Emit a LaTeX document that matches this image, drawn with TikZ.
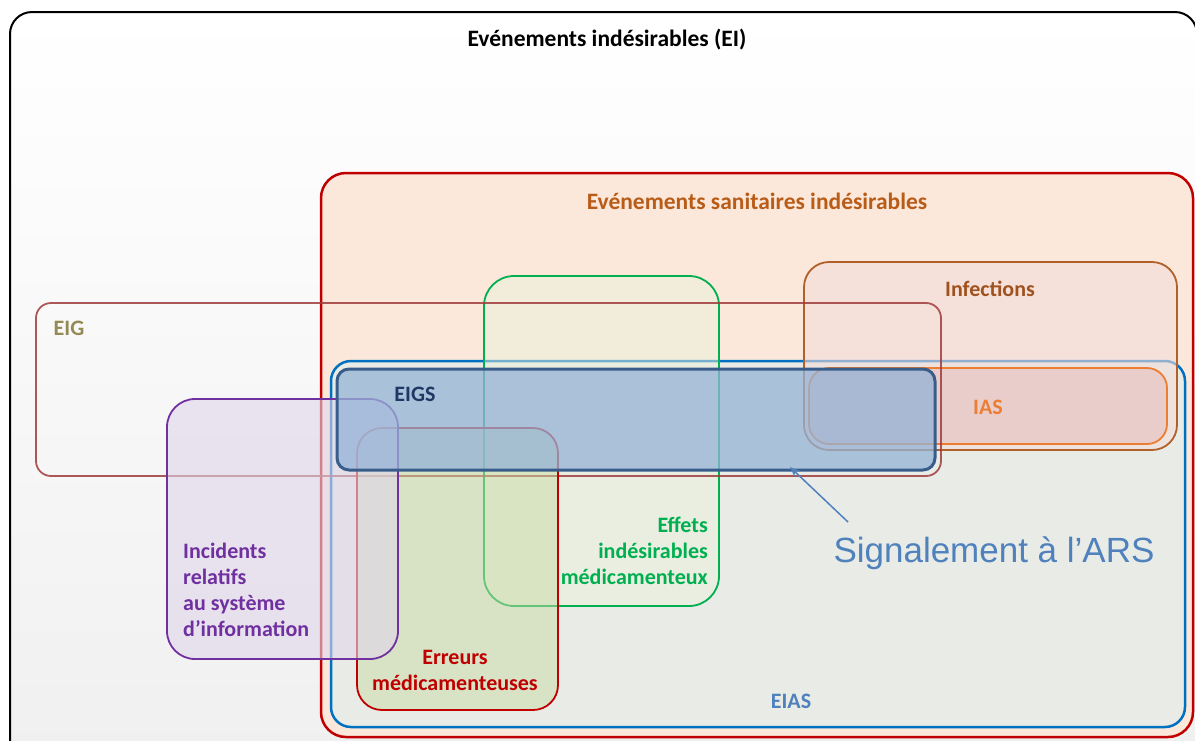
\documentclass[tikz,border=0pt]{standalone}
\usepackage{fontspec}
\setmainfont{Carlito}
\newfontfamily\arialfont{Liberation Sans}
\usepackage{xcolor}
\usetikzlibrary{positioning,arrows.meta}

\definecolor{eiRed}{RGB}{192,0,0}
\definecolor{esiFill}{RGB}{252,232,218}
\definecolor{esiText}{RGB}{184,92,24}
\definecolor{eiasBlue}{RGB}{0,112,192}
\definecolor{eiasFill}{RGB}{233,235,230}
\definecolor{eimGreen}{RGB}{0,176,80}
\definecolor{eimFill}{RGB}{234,241,221}
\definecolor{infBrown}{RGB}{176,96,40}
\definecolor{infText}{RGB}{160,82,30}
\definecolor{infFill}{RGB}{242,220,219}
\definecolor{iasOrange}{RGB}{237,125,49}
\definecolor{iasFill}{RGB}{230,185,184}
\definecolor{eigLine}{RGB}{160,60,60}
\definecolor{eigText}{RGB}{148,138,84}
\definecolor{emFill}{RGB}{201,219,165}
\definecolor{isiPurple}{RGB}{112,48,160}
\definecolor{isiFill}{RGB}{224,214,234}
\definecolor{eigsLine}{RGB}{56,93,138}
\definecolor{eigsFill}{RGB}{149,179,215}
\definecolor{eigsText}{RGB}{31,56,100}
\definecolor{sigBlue}{RGB}{79,129,189}

\begin{document}
\begin{tikzpicture}[x=1pt,y=-1pt,
  setbox/.style={rectangle,inner sep=0pt,outer sep=0pt,anchor=north west,line width=1.8pt},
  lbl/.style={inner sep=0pt,font=\fontsize{22}{26}\selectfont\bfseries},
  biglbl/.style={inner sep=0pt,font=\fontsize{23.5}{28}\selectfont\bfseries}]
\useasboundingbox (0,0) rectangle (1195,740);
\clip (0,0) rectangle (1195,740);

% sets, back to front
\node[setbox,draw=black,line width=2pt,rounded corners=22pt,top color=white,bottom color=black!6,
  minimum width=1187pt,minimum height=760pt] (ei) at (10,12) {};
\node[setbox,draw=eiRed,line width=2.5pt,rounded corners=25pt,fill=esiFill,
  minimum width=872pt,minimum height=564pt] (esi) at (321,173) {};
\node[setbox,draw=eiasBlue,line width=2.5pt,rounded corners=20pt,fill=eiasFill,
  minimum width=854pt,minimum height=366pt] (eias) at (331,361) {};
\node[setbox,draw=eimGreen,rounded corners=30pt,fill=eimFill,fill opacity=0.5,
  minimum width=235pt,minimum height=330pt] (eim) at (484,276) {};
\node[setbox,draw=infBrown,rounded corners=25pt,fill=infFill,fill opacity=0.6,
  minimum width=373pt,minimum height=188pt] (inf) at (804,262) {};
\node[setbox,draw=iasOrange,rounded corners=20pt,fill=iasFill,fill opacity=0.5,
  minimum width=358pt,minimum height=76pt] (ias) at (809,368) {};
\node[setbox,draw=eigLine,draw opacity=0.85,rounded corners=15pt,
  minimum width=905pt,minimum height=173pt] (eig) at (36,303) {};
\node[setbox,draw=eiRed,rounded corners=25pt,fill=emFill,fill opacity=0.5,
  minimum width=201pt,minimum height=282pt] (em) at (357,428) {};
\node[setbox,draw=isiPurple,rounded corners=28pt,fill=isiFill,fill opacity=0.6,
  minimum width=231pt,minimum height=260pt] (isi) at (167,399) {};
\node[setbox,draw=eigsLine,line width=3pt,rounded corners=12pt,fill=eigsFill,fill opacity=0.75,
  minimum width=598pt,minimum height=101pt] (eigs) at (337,369) {};

% labels
\node[biglbl] (eiLbl) at (607,40) {Evénements indésirables (EI)};
\node[biglbl,text=esiText] (esiLbl) at (757,201) {Evénements sanitaires indésirables};
\node[lbl,text=infText] (infLbl) at (990,289) {Infections};
\node[lbl,text=iasOrange] (iasLbl) at (988,407) {IAS};
\node[lbl,text=eigText] (eigLbl) at (69,328) {EIG};
\node[lbl,text=eigsText] (eigsLbl) at (415,394) {EIGS};
\node[lbl,text=eimGreen,align=right,anchor=east] (eimLbl) at (708,551) {Effets\\indésirables\\médicamenteux};
\node[lbl,text=eiRed,align=center] (emLbl) at (455,670) {Erreurs\\médicamenteuses};
\node[lbl,text=isiPurple,align=left,anchor=west] (isiLbl) at (183,590) {Incidents\\relatifs\\au système\\d’information};
\node[lbl,text=sigBlue] (eiasLbl) at (791,701) {EIAS};
\node[inner sep=0pt,text=sigBlue,font=\arialfont\fontsize{35}{42}\selectfont] (sig) at (994,553) {Signalement à l’ARS};

% arrow to EIGS
\coordinate (tail) at (848,522);
\coordinate (tip) at (790,467);
\draw[sigBlue,line width=1.5pt,-{Stealth[length=10pt,width=8pt]}] (tail) -- (tip);
\end{tikzpicture}
\end{document}
